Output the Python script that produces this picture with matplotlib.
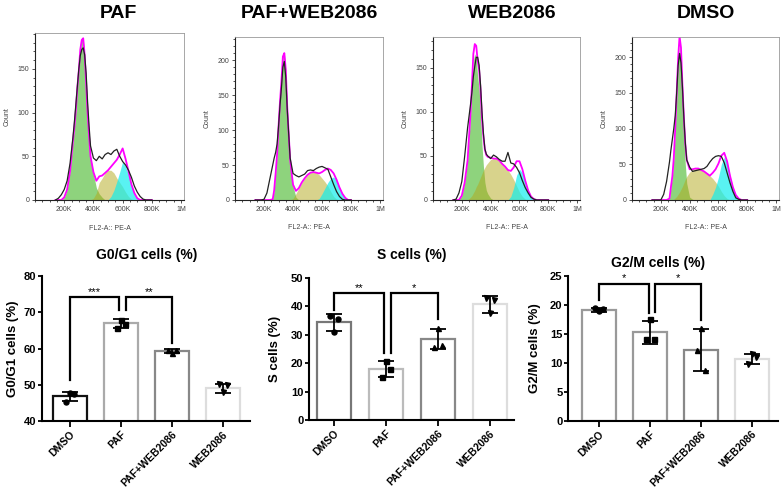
import numpy as np
import matplotlib
matplotlib.use('Agg')
import matplotlib.pyplot as plt
from matplotlib.ticker import MultipleLocator

plt.rcParams['font.family'] = ['Liberation Sans', 'DejaVu Sans']

# ---------------- flow cytometry histograms ----------------
# FL2-A channel (thousands) where the curves were read off
fl2 = [140, 160, 180, 200, 220, 240, 260,
       270, 280, 290, 300, 310, 320, 330, 340, 350, 360, 370, 380,
       400, 420, 440, 460, 480, 500, 520, 540, 560, 580, 600,
       620, 640, 660, 680, 700, 720, 740, 760, 780, 800]

# PAF
paf_raw = [0, 2, 6, 12, 22, 42, 72,
           90, 110, 130, 150, 165, 172, 174, 166, 145, 112, 85, 62,
           48, 45, 50, 47, 52, 54, 52, 56, 58, 50, 44, 40, 34, 26, 16, 9, 4, 1, 0, 0, 0]
paf_g1 = [0, 0, 0, 3, 12, 33, 68,
          84, 104, 129, 148, 172, 183, 185, 166, 135, 100, 74, 50,
          30, 14, 7, 3, 0, 0, 0, 0, 0, 0, 0, 0, 0, 0, 0, 0, 0, 0, 0, 0, 0]
paf_s = [0, 0, 0, 0, 0, 0, 0,
         0, 0, 0, 0, 0, 0, 0, 0, 0, 0, 0, 0,
         2, 8, 20, 25, 31, 34, 34, 31, 25, 20, 15, 9, 4, 1, 0, 0, 0, 0, 0, 0, 0]
paf_g2 = [0, 0, 0, 0, 0, 0, 0,
          0, 0, 0, 0, 0, 0, 0, 0, 0, 0, 0, 0,
          0, 0, 0, 0, 0, 0, 4, 11, 21, 32, 44, 38, 29, 17, 8, 2, 0, 0, 0, 0, 0]

# PAF+WEB2086
pw_raw = [0, 0, 0, 1, 10, 30, 50,
          60, 68, 80, 105, 135, 160, 190, 198, 175, 130, 95, 60,
          38, 35, 33, 35, 37, 42, 43, 42, 45, 47, 48, 46, 44, 33, 22, 12, 5, 1, 0, 0, 0]
pw_g1 = [0, 0, 0, 0, 0, 0, 1,
         14, 38, 65, 105, 140, 170, 205, 210, 186, 133, 95, 58,
         20, 4, 0, 0, 0, 0, 0, 0, 0, 0, 0, 0, 0, 0, 0, 0, 0, 0, 0, 0, 0]
pw_s = [0, 0, 0, 0, 0, 0, 0,
        0, 0, 0, 0, 0, 0, 0, 0, 0, 0, 0, 0,
        2, 9, 17, 25, 31, 36, 39, 40, 39, 36, 31, 26, 20, 12, 5, 1, 0, 0, 0, 0, 0]
pw_g2 = [0, 0, 0, 0, 0, 0, 0,
         0, 0, 0, 0, 0, 0, 0, 0, 0, 0, 0, 0,
         0, 0, 0, 0, 0, 0, 0, 0, 0, 2, 9, 17, 25, 31, 33, 28, 18, 9, 3, 0, 0]

# WEB2086
web_raw = [0, 1, 8, 21, 50, 82, 108,
           122, 140, 152, 162, 162, 153, 130, 100, 75, 58, 52, 50,
           47, 51, 49, 46, 44, 44, 54, 42, 41, 37, 31, 22, 14, 8, 3, 1, 0, 0, 0, 0, 0]
web_g1 = [0, 0, 0, 5, 20, 45, 95,
          125, 158, 166, 160, 140, 126, 99, 62, 38, 20, 11, 7,
          2, 0, 0, 0, 0, 0, 0, 0, 0, 0, 0, 0, 0, 0, 0, 0, 0, 0, 0, 0, 0]
web_s = [0, 0, 0, 0, 0, 0, 3,
         5, 8, 11, 15, 18, 22, 26, 30, 34, 37, 40, 42,
         46, 47, 47, 45, 41, 38, 34, 29, 23, 16, 9, 4, 1, 0, 0, 0, 0, 0, 0, 0, 0]
web_g2 = [0, 0, 0, 0, 0, 0, 0,
          0, 0, 0, 0, 0, 0, 0, 0, 0, 0, 0, 0,
          0, 0, 0, 0, 0, 0, 0, 4, 14, 28, 35, 31, 21, 11, 4, 1, 0, 0, 0, 0, 0]

# DMSO
dmso_raw = [0, 0, 0, 0, 8, 26, 53,
            70, 85, 100, 118, 150, 188, 205, 192, 158, 115, 80, 56,
            46, 40, 41, 42, 43, 44, 47, 53, 58, 61, 62, 61, 52, 38, 24, 12, 3, 1, 0, 0, 0]
dmso_g1 = [0, 0, 0, 0, 0, 0, 2,
           18, 33, 58, 97, 144, 190, 218, 198, 141, 91, 49, 23,
           4, 1, 0, 0, 0, 0, 0, 0, 0, 0, 0, 0, 0, 0, 0, 0, 0, 0, 0, 0, 0]
dmso_s = [0, 0, 0, 0, 0, 0, 0,
          0, 0, 1, 3, 5, 8, 11, 15, 19, 24, 29, 33,
          39, 42, 44, 44, 42, 40, 37, 34, 30, 25, 19, 12, 6, 2, 0, 0, 0, 0, 0, 0, 0]
dmso_g2 = [0, 0, 0, 0, 0, 0, 0,
           0, 0, 0, 0, 0, 0, 0, 0, 0, 0, 0, 0,
           0, 0, 0, 0, 0, 0, 0, 0, 8, 18, 32, 50, 60, 52, 34, 18, 7, 2, 0, 0, 0]

hist_names = ['PAF', 'PAF+WEB2086', 'WEB2086', 'DMSO']
hist_raw = [paf_raw, pw_raw, web_raw, dmso_raw]
hist_g1 = [paf_g1, pw_g1, web_g1, dmso_g1]
hist_s = [paf_s, pw_s, web_s, dmso_s]
hist_g2 = [paf_g2, pw_g2, web_g2, dmso_g2]

# ---------------- cell cycle bar charts ----------------
groups = ['DMSO', 'PAF', 'PAF+WEB2086', 'WEB2086']

g1_mean = [46.8, 66.9, 59.3, 49.0]
g1_sd = [1.3, 1.2, 0.6, 1.2]
g1_pts = [[45.3, 47.6, 47.4], [65.6, 68.0, 66.7], [59.6, 58.8, 59.5], [50.3, 48.0, 49.8]]

s_mean = [34.3, 18.0, 28.6, 40.7]
s_sd = [2.9, 2.8, 3.5, 3.0]
s_pts = [[36.6, 31.0, 35.6], [15.2, 20.7, 17.9], [25.7, 32.4, 26.3], [42.8, 37.7, 42.2]]

g2_mean = [19.1, 15.3, 12.2, 10.6]
g2_sd = [0.4, 2.0, 3.6, 0.85]
g2_pts = [[19.4, 18.9, 19.3], [14.1, 17.6, 14.2], [12.3, 16.1, 8.8], [9.8, 11.5, 11.0]]

# significance brackets: (group a, group b, top, leg a bottom, leg b bottom, label)
g1_sig = [(0, 1, 74.3, 51.3, 70.6, '***'), (1, 2, 74.3, 70.6, 61.4, '**')]
s_sig = [(0, 1, 44.7, 38.6, 23.7, '**'), (1, 2, 44.7, 23.7, 35.4, '*')]
g2_sig = [(0, 1, 23.7, 20.9, 18.6, '*'), (1, 2, 23.7, 18.8, 17.4, '*')]

# ---------------- layout ----------------
W, H = 784, 490
fig = plt.figure(figsize=(W / 100, H / 100), dpi=100)


def px_box(l, t, r, b):
    return [l / W, 1 - b / H, (r - l) / W, (b - t) / H]


GREEN = (0.35, 0.75, 0.25)
YELLOW = (0.70, 0.66, 0.10)
CYAN = (0.07, 0.93, 0.93)

hist_boxes = [(35, 33, 184, 200), (235, 37, 383, 200), (433, 37, 580, 200), (632, 37, 779, 200)]
hist_ymax = [191, 233, 185, 228]
hist_title_x = [118, 309, 512, 706]

x = np.array(fl2)
for k in range(4):
    ax = fig.add_axes(px_box(*hist_boxes[k]))
    g1 = np.array(hist_g1[k])
    s = np.array(hist_s[k])
    g2 = np.array(hist_g2[k])
    ax.fill_between(x, 0, g1, color=GREEN, alpha=0.68, lw=0)
    ax.fill_between(x, 0, s, color=YELLOW, alpha=0.5, lw=0)
    ax.fill_between(x, 0, g2, color=CYAN, alpha=0.7, lw=0)
    ax.plot(x, g1 + s + g2, color='#ff00ff', lw=1.3)
    ax.plot(x, hist_raw[k], color='#222222', lw=0.9)
    ax.set_xlim(0, 1020)
    ax.set_ylim(0, hist_ymax[k])
    ax.set_xticks([200, 400, 600, 800, 1000])
    ax.set_xticklabels(['200K', '400K', '600K', '800K', '1M'])
    ax.xaxis.set_minor_locator(MultipleLocator(50))
    ax.yaxis.set_major_locator(MultipleLocator(50))
    ax.yaxis.set_minor_locator(MultipleLocator(10))
    ax.tick_params(which='both', direction='out', width=0.6, labelsize=5,
                   labelcolor='#444444', color='#333333', pad=1.5)
    ax.tick_params(which='major', length=2.5)
    ax.tick_params(which='minor', length=1.3)
    for side in ['left', 'bottom']:
        ax.spines[side].set_color('#222222')
        ax.spines[side].set_linewidth(0.8)
    for side in ['top', 'right']:
        ax.spines[side].set_color('#999999')
        ax.spines[side].set_linewidth(0.6)
    ax.set_ylabel('Count', fontsize=5, color='#444444')
    ax.yaxis.set_label_coords(-0.165, 0.5)
    ax.set_xlabel('FL2-A:: PE-A', fontsize=5, color='#444444')
    ax.xaxis.set_label_coords(0.5, -0.15)
    fig.text(hist_title_x[k] / W, 1 - 13 / H, hist_names[k], fontsize=14,
             fontweight='bold', ha='center', va='center')

# bar panels
markers = ['o', 's', '^', 'v']
jitter = [-0.08, 0.0, 0.08]
bracket_x = [(0.0, 0.97), (1.09, 2.0)]

panels = [
    dict(box=(42, 276, 250, 421), xlim=(-0.55, 3.53), ylim=(40, 80), step=10,
         mean=g1_mean, sd=g1_sd, pts=g1_pts, sig=g1_sig,
         title='G0/G1 cells (%)', tpos=(147, 255), ylabel='G0/G1 cells (%)', ylx=-0.11,
         edges=['#111111', '#aaaaaa', '#888888', '#dddddd']),
    dict(box=(309, 277.7, 514, 420), xlim=(-0.48, 3.46), ylim=(0, 50), step=10,
         mean=s_mean, sd=s_sd, pts=s_pts, sig=s_sig,
         title='S cells (%)', tpos=(412, 255), ylabel='S cells (%)', ylx=-0.135,
         edges=['#777777', '#bbbbbb', '#888888', '#dddddd']),
    dict(box=(568, 276, 778, 420.7), xlim=(-0.61, 3.51), ylim=(0, 25), step=5,
         mean=g2_mean, sd=g2_sd, pts=g2_pts, sig=g2_sig,
         title='G2/M cells (%)', tpos=(658, 263), ylabel='G2/M cells (%)', ylx=-0.127,
         edges=['#999999', '#999999', '#888888', '#dddddd']),
]

for p in panels:
    ax = fig.add_axes(px_box(*p['box']))
    xs = np.arange(len(groups))
    ax.bar(xs, p['mean'], width=0.66, color='white', edgecolor=p['edges'],
           linewidth=1.6, zorder=2)
    ax.errorbar(xs, p['mean'], yerr=p['sd'], fmt='none', ecolor='black',
                elinewidth=1.3, capsize=6, capthick=1.3, zorder=3)
    for i in range(len(groups)):
        ax.plot(xs[i] + np.array(jitter), p['pts'][i], marker=markers[i], ls='none',
                color='black', ms=3.6, zorder=4, clip_on=False)
    for n, (a, b, top, ya, yb, lab) in enumerate(p['sig']):
        xl, xr = bracket_x[n]
        ax.plot([xl, xl, xr, xr], [ya, top, top, yb], color='black', lw=1.6,
                solid_joinstyle='miter', zorder=5, clip_on=False)
        ax.annotate(lab, xy=((xl + xr) / 2, top), xytext=(0, 1.5),
                    textcoords='offset points', ha='center', va='baseline', fontsize=8)
    ax.set_xlim(*p['xlim'])
    ax.set_ylim(*p['ylim'])
    ax.yaxis.set_major_locator(MultipleLocator(p['step']))
    ax.set_xticks(xs)
    ax.set_xticklabels(groups, rotation=45, ha='right', rotation_mode='anchor',
                       fontsize=7.5, fontweight='bold')
    for lab in ax.get_yticklabels():
        lab.set_fontweight('bold')
    ax.tick_params(axis='y', labelsize=8, length=3, width=1.3, pad=1)
    ax.tick_params(axis='x', length=4, width=1.3, pad=2)
    for side in ['top', 'right']:
        ax.spines[side].set_visible(False)
    for side in ['left', 'bottom']:
        ax.spines[side].set_linewidth(1.5)
    ax.set_ylabel(p['ylabel'], fontsize=9.5, fontweight='bold')
    ax.yaxis.set_label_coords(p['ylx'], 0.5)
    fig.text(p['tpos'][0] / W, 1 - p['tpos'][1] / H, p['title'], fontsize=10,
             fontweight='bold', ha='center', va='center')

fig.savefig('out.png', dpi=100)
